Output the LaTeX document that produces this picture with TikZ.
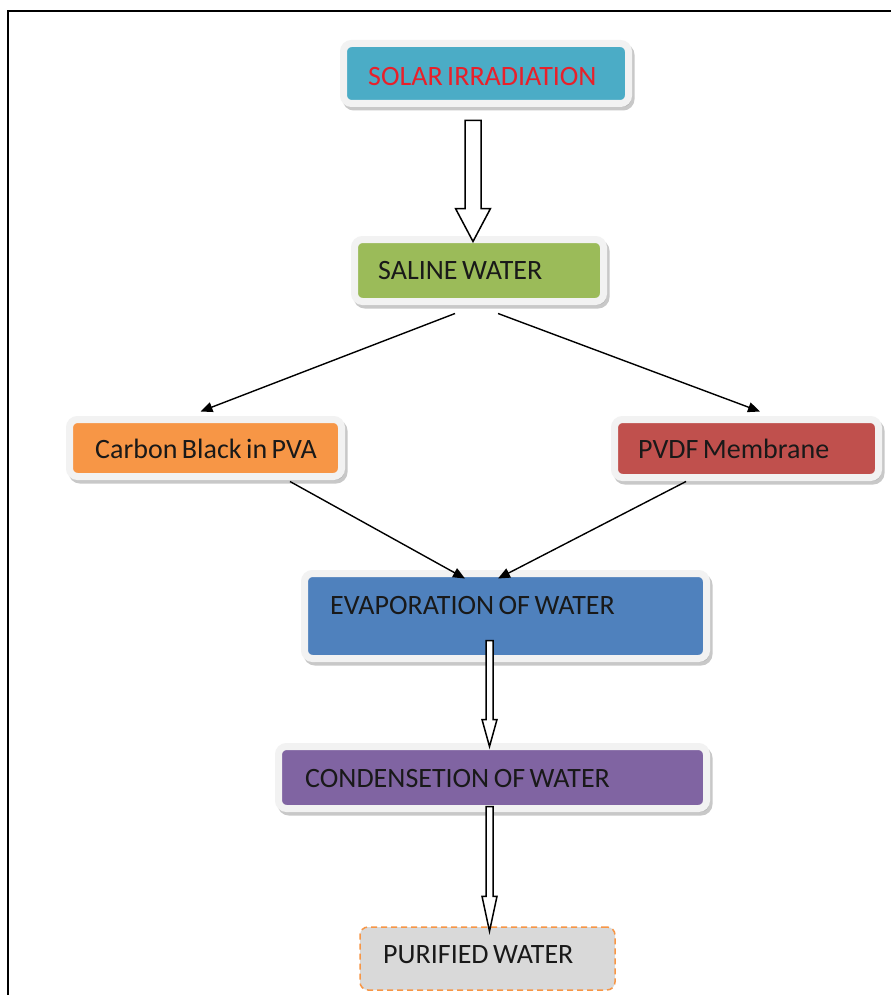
\documentclass[tikz,border=0pt]{standalone}
\usepackage{fontspec}
\setmainfont{Carlito}
\usetikzlibrary{arrows.meta,shadows,calc}
\definecolor{cteal}{HTML}{4BACC6}
\definecolor{cgreen}{HTML}{9BBB59}
\definecolor{corange}{HTML}{F79646}
\definecolor{cred}{HTML}{C0504D}
\definecolor{cblue}{HTML}{4F81BD}
\definecolor{cpurple}{HTML}{8064A2}
\definecolor{cgrey}{HTML}{D9D9D9}
\definecolor{crim}{HTML}{F2F2F2}
\definecolor{ctxtred}{HTML}{E8202A}
\newcommand{\boxfont}{\fontsize{28}{30}\selectfont\spaceskip=4.5pt\relax}
\newcommand{\blockarrow}[5]{%
  \draw[hollowarrow] let \p1=(#1), \p2=(#2) in
    (\x2-#3,\y1) -- (\x2-#3,\y2+#5) -- (\x2-#4,\y2+#5) -- (\x2,\y2)
    -- (\x2+#4,\y2+#5) -- (\x2+#3,\y2+#5) -- (\x2+#3,\y1) -- cycle;}
\begin{document}
\begin{tikzpicture}[x=1pt,y=-1pt,
  box/.style={rectangle, rounded corners=8pt, draw=crim, line width=7pt, inner sep=0pt,
    drop shadow={shadow xshift=2.5pt, shadow yshift=-3.5pt, fill=black!30, draw=black!30, line width=7pt, opacity=0.7}},
  txt/.style={anchor=west, inner sep=0pt, font=\boxfont, text=black!90},
  conn/.style={line width=1.4pt, -{Triangle[length=12pt,width=10pt]}},
  hollowarrow/.style={draw=black, fill=white, line width=1.5pt, line join=miter}]
\useasboundingbox (0,0) rectangle (891,995);
\fill[white] (0,0) rectangle (891,995);
\draw[line width=2pt] (8,995) -- (8,11) -- (891,11);

% boxes
\node[box, fill=cteal, minimum width=285pt, minimum height=60pt] (sol) at (486,73.5) {};
\node[box, fill=cgreen, minimum width=249pt, minimum height=62pt] (sal) at (479,270.5) {};
\node[box, fill=corange, minimum width=272pt, minimum height=57pt] (carb) at (205.5,448) {};
\node[box, fill=cred, minimum width=264pt, minimum height=58pt] (pvdf) at (746.5,448.5) {};
\node[box, fill=cblue, minimum width=402pt, minimum height=85pt] (evap) at (505.5,616) {};
\node[box, fill=cpurple, minimum width=428pt, minimum height=62pt] (cond) at (492.5,777.5) {};
\node[rectangle, rounded corners=8pt, fill=cgrey, draw=corange, line width=1.5pt,
  dash pattern=on 6pt off 4pt, minimum width=255pt, minimum height=63pt] (pur) at (487.5,958.5) {};

% texts
\node[txt, text=ctxtred] (solt) at (368,77) {SOLAR IRRADIATION};
\node[txt] (salt) at (378,271) {SALINE WATER};
\node[txt] (carbt) at (95,449) {Carbon Black in PVA};
\node[txt] (pvdft) at (638,449) {PVDF Membrane};
\node[txt] (evapt) at (330,606) {EVAPORATION OF WATER};
\node[txt] (condt) at (305,779) {CONDENSETION OF WATER};
\node[txt] (purt) at (383,955) {PURIFIED WATER};

% thin connectors
\draw[conn] ([xshift=-24pt,yshift=-8.5pt]sal.south) -- ([xshift=-5pt,yshift=4.5pt]carb.north);
\draw[conn] ([xshift=19pt,yshift=-8.5pt]sal.south) -- ([xshift=13.5pt,yshift=4.5pt]pvdf.north);
\draw[conn] ([xshift=84.5pt,yshift=-1.5pt]carb.south) -- ([xshift=-40.5pt,yshift=-8.5pt]evap.north);
\draw[conn] ([xshift=-60.5pt,yshift=-0.5pt]pvdf.south) -- ([xshift=-7.5pt,yshift=-8.5pt]evap.north);

% hollow block arrows
\coordinate (a1s) at ([xshift=-6pt,yshift=-13.5pt]sol.south);
\coordinate (a1e) at ([xshift=-6pt,yshift=-5.5pt]sal.north);
\blockarrow{a1s}{a1e}{8pt}{17.5pt}{33pt}
\coordinate (a2s) at ([xshift=-16pt,yshift=21.5pt]evap.south);
\coordinate (a2e) at ([xshift=-3pt,yshift=-3.5pt]cond.north);
\blockarrow{a2s}{a2e}{3.5pt}{7.5pt}{27pt}
\coordinate (a3s) at ([xshift=-3pt,yshift=5.5pt]cond.south);
\coordinate (a3e) at ([xshift=2pt,yshift=-5pt]pur.north);
\blockarrow{a3s}{a3e}{3.5pt}{7.5pt}{35pt}
\end{tikzpicture}
\end{document}
